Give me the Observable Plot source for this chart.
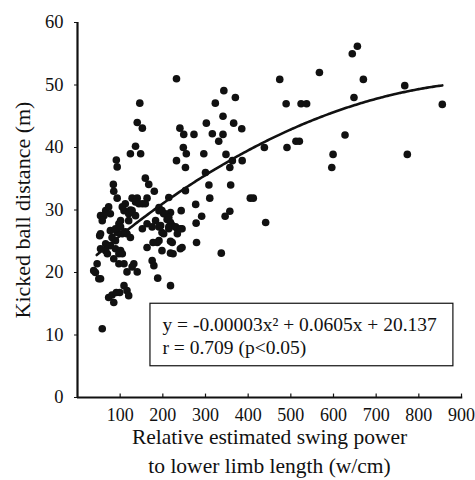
<!DOCTYPE html>
<html>
<head>
<meta charset="utf-8">
<script src="https://cdn.jsdelivr.net/npm/d3@7"></script>
<script src="https://cdn.jsdelivr.net/npm/@observablehq/plot@0.6"></script>
<style>
  body { margin: 0; background: #fff; }
</style>
</head>
<body>
<div id="chart"></div>
<script>
// Relative estimated swing power to lower limb length (w/cm)
const power = [
  656, 644, 474, 567, 670, 767, 855, 343, 370, 489,
  524, 537, 648, 341, 366, 385, 341, 331, 627, 438,
  491, 512, 520, 348, 599, 773, 363, 386, 357, 596,
  359, 405, 412, 357, 346, 441, 232, 146, 323, 240,
  249, 273, 140, 152, 302, 316, 136, 124, 148, 248,
  255, 296, 232, 253, 91, 93, 159, 167, 180, 163,
  84, 85, 93, 128, 140, 300, 308, 310, 253, 214,
  277, 243, 291, 278, 279, 337, 112, 109, 124, 136,
  152, 159, 144, 54, 66, 77, 73, 105, 120, 128,
  62, 58, 101, 120, 136, 163, 175, 183, 195, 198,
  191, 202, 218, 210, 222, 234, 245, 54, 97, 93,
  105, 112, 89, 81, 66, 77, 89, 101, 116, 124,
  163, 187, 198, 97, 105, 85, 46, 97, 132, 175,
  202, 191, 218, 241, 218, 222, 224, 245, 52, 42,
  50, 38, 54, 116, 128, 140, 179, 188, 218, 73,
  81, 85, 91, 99, 109, 116, 120, 58, 177, 77,
  89, 101, 152, 214, 234, 66, 54, 70, 109, 191,
  198, 206, 214, 218, 214, 191, 230, 241
];
// Kicked ball distance (m)
const distance = [
  56.2, 55.0, 50.9, 52.0, 50.9, 49.9, 46.9, 49.1, 48.0, 47.0,
  47.0, 47.0, 48.0, 45.0, 43.9, 43.0, 42.1, 41.0, 42.0, 40.0,
  40.0, 41.0, 41.0, 38.9, 38.9, 38.9, 37.9, 37.9, 36.8, 36.8,
  34.0, 31.9, 31.9, 29.8, 29.0, 28.0, 51.0, 47.1, 47.1, 43.1,
  42.1, 42.1, 44.0, 43.1, 43.9, 42.2, 40.2, 39.0, 39.0, 40.0,
  39.0, 39.0, 37.9, 36.8, 38.0, 36.9, 35.1, 34.1, 33.0, 31.9,
  34.1, 33.0, 31.9, 31.9, 31.9, 36.0, 34.0, 31.9, 33.1, 32.0,
  30.9, 29.9, 29.0, 27.9, 24.8, 23.1, 31.0, 29.9, 30.0, 31.3,
  31.0, 31.0, 31.0, 29.1, 29.9, 29.4, 30.5, 30.5, 29.4, 29.9,
  29.1, 28.3, 28.3, 28.3, 29.1, 27.8, 27.3, 28.3, 27.5, 26.4,
  29.9, 29.4, 29.6, 28.5, 27.5, 27.0, 27.0, 26.2, 27.8, 26.4,
  26.2, 26.5, 25.1, 25.6, 24.6, 24.3, 23.8, 23.5, 26.2, 25.6,
  24.0, 24.8, 23.5, 23.0, 23.0, 22.2, 21.4, 21.4, 21.4, 21.9,
  26.2, 25.1, 25.0, 23.8, 23.1, 24.8, 23.0, 24.0, 25.9, 20.0,
  19.0, 20.3, 19.0, 20.1, 20.9, 20.1, 21.1, 19.1, 17.9, 16.0,
  16.4, 15.2, 16.8, 16.8, 17.9, 17.1, 16.3, 11.0, 24.8, 26.7,
  27.0, 27.3, 27.0, 27.0, 26.2, 23.5, 23.8, 23.0, 21.4, 30.4,
  29.9, 29.4, 28.8, 28.0, 27.3, 27.3, 27.3, 27.0
];
const points = power.map((p, i) => ({power: p, distance: distance[i]}));

// Regression shown on the chart: y = a x^2 + b x + c
const fitCoefficients = [-0.00003, 0.0605, 20.137];
const fitRange = [45, 855];
const fitLine = d3.range(fitRange[0], fitRange[1] + 1, 5).map(x => ({
  power: x,
  distance: fitCoefficients[0] * x * x + fitCoefficients[1] * x + fitCoefficients[2]
}));

const xTicks = [100, 200, 300, 400, 500, 600, 700, 800, 900];
const yTicks = [0, 10, 20, 30, 40, 50, 60];
const equationText = ["y = -0.00003x² + 0.0605x + 20.137", "r = 0.709 (p<0.05)"];
const yTitle = "Kicked ball distance (m)";
const xTitle = ["Relative estimated swing power", "to lower limb length (w/cm)"];

const serif = "Liberation Serif";

const chart = Plot.plot({
  width: 475,
  height: 480,
  marginLeft: 77,
  marginRight: 14,
  marginTop: 22,
  marginBottom: 83,
  style: {fontFamily: serif, fontSize: "18.5px", background: "#fff", color: "#111"},
  x: {domain: [0, 900]},
  y: {domain: [0, 60]},
  marks: [
    Plot.axisY({ticks: yTicks, tickSize: 3, tickPadding: 11, label: null, stroke: "#111", fontSize: 18.5, fontFamily: serif, fontVariant: "normal"}),
    Plot.axisX({ticks: xTicks, tickSize: 0, tickPadding: 11, label: null, fontSize: 18, fontFamily: serif, fontVariant: "normal"}),
    Plot.ruleX(xTicks, {x: d => d, y1: 0, y2: 0.55, stroke: "#111", strokeWidth: 1.2}),
    Plot.ruleX([0], {stroke: "#111", strokeWidth: 2.2}),
    Plot.ruleY([0], {stroke: "#111", strokeWidth: 2.2, x1: 0, x2: 903}),
    Plot.dot(points, {x: "power", y: "distance", r: 3.8, fill: "#111", stroke: "none"}),
    Plot.line(fitLine, {x: "power", y: "distance", stroke: "#111", strokeWidth: 2.6, curve: "natural"}),
    Plot.rect([{x1: 171, x2: 881, y1: 5, y2: 15}], {x1: "x1", x2: "x2", y1: "y1", y2: "y2", fill: "#fff", stroke: "#111", strokeWidth: 1.2}),
    Plot.text([equationText[0]], {x: 199, y: 11.7, text: d => d, textAnchor: "start", fontSize: 19.5, fontFamily: serif, fill: "#111"}),
    Plot.text([equationText[1]], {x: 199, y: 7.9, text: d => d, textAnchor: "start", fontSize: 19.5, fontFamily: serif, fill: "#111"}),
    Plot.text([yTitle], {frameAnchor: "left", textAnchor: "middle", dx: -55, rotate: -90, text: d => d, fontSize: 22, fontFamily: serif, fill: "#111"}),
    Plot.text([xTitle[0]], {frameAnchor: "bottom", textAnchor: "middle", dy: 46, text: d => d, fontSize: 21.5, fontFamily: serif, fill: "#111"}),
    Plot.text([xTitle[1]], {frameAnchor: "bottom", textAnchor: "middle", dy: 75, text: d => d, fontSize: 21.5, fontFamily: serif, fill: "#111"})
  ]
});
document.getElementById("chart").appendChild(chart);
</script>
</body>
</html>
